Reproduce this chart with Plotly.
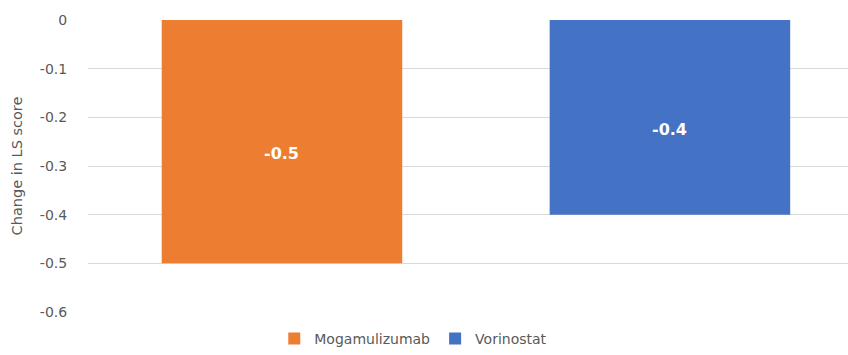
import plotly.graph_objects as go

categories = ["Mogamulizumab", "Vorinostat"]
values = [-0.5, -0.4]
labels = ["-0.5", "-0.4"]
colors = ["#ED7D31", "#4472C4"]
tick_vals = [0, -0.1, -0.2, -0.3, -0.4, -0.5, -0.6]
tick_text = ["0", "-0.1", "-0.2", "-0.3", "-0.4", "-0.5", "-0.6"]

FONT = "DejaVu Sans"

fig = go.Figure()
for cat, val, lab, col in zip(categories, values, labels, colors):
    fig.add_trace(go.Bar(
        x=[cat], y=[val], name=cat, marker=dict(color=col, line=dict(width=0)),
        width=0.62, showlegend=True,
    ))
    fig.add_annotation(x=cat, y=val / 2, text=lab, showarrow=False, yshift=-12,
                       font=dict(color="white", size=16, family=FONT, weight="bold"))

fig.update_layout(
    width=848, height=355,
    margin=dict(l=88, r=0, t=20, b=43),
    plot_bgcolor="white", paper_bgcolor="white",
    barmode="overlay",
    font=dict(family=FONT, color="#595959", size=14),
    legend=dict(orientation="h", x=0.428, xanchor="center", yref="container", y=-0.03, yanchor="bottom",
                font=dict(size=14, color="#595959", family=FONT), itemwidth=30, traceorder="normal",
                tracegroupgap=0),
    xaxis=dict(visible=False, range=[-0.5, 1.459], type="category"),
    yaxis=dict(range=[-0.6, 0], tickvals=tick_vals, ticktext=tick_text,
               showgrid=True, gridcolor="#d9d9d9", gridwidth=1, zeroline=False,
               ticks="outside", ticklen=17, tickcolor="rgba(0,0,0,0)",
               tickfont=dict(size=14, color="#595959", family=FONT),
               title=dict(text="Change in LS score", font=dict(size=14.5, color="#595959", family=FONT), standoff=13)),
)

fig.write_html("out.html")
